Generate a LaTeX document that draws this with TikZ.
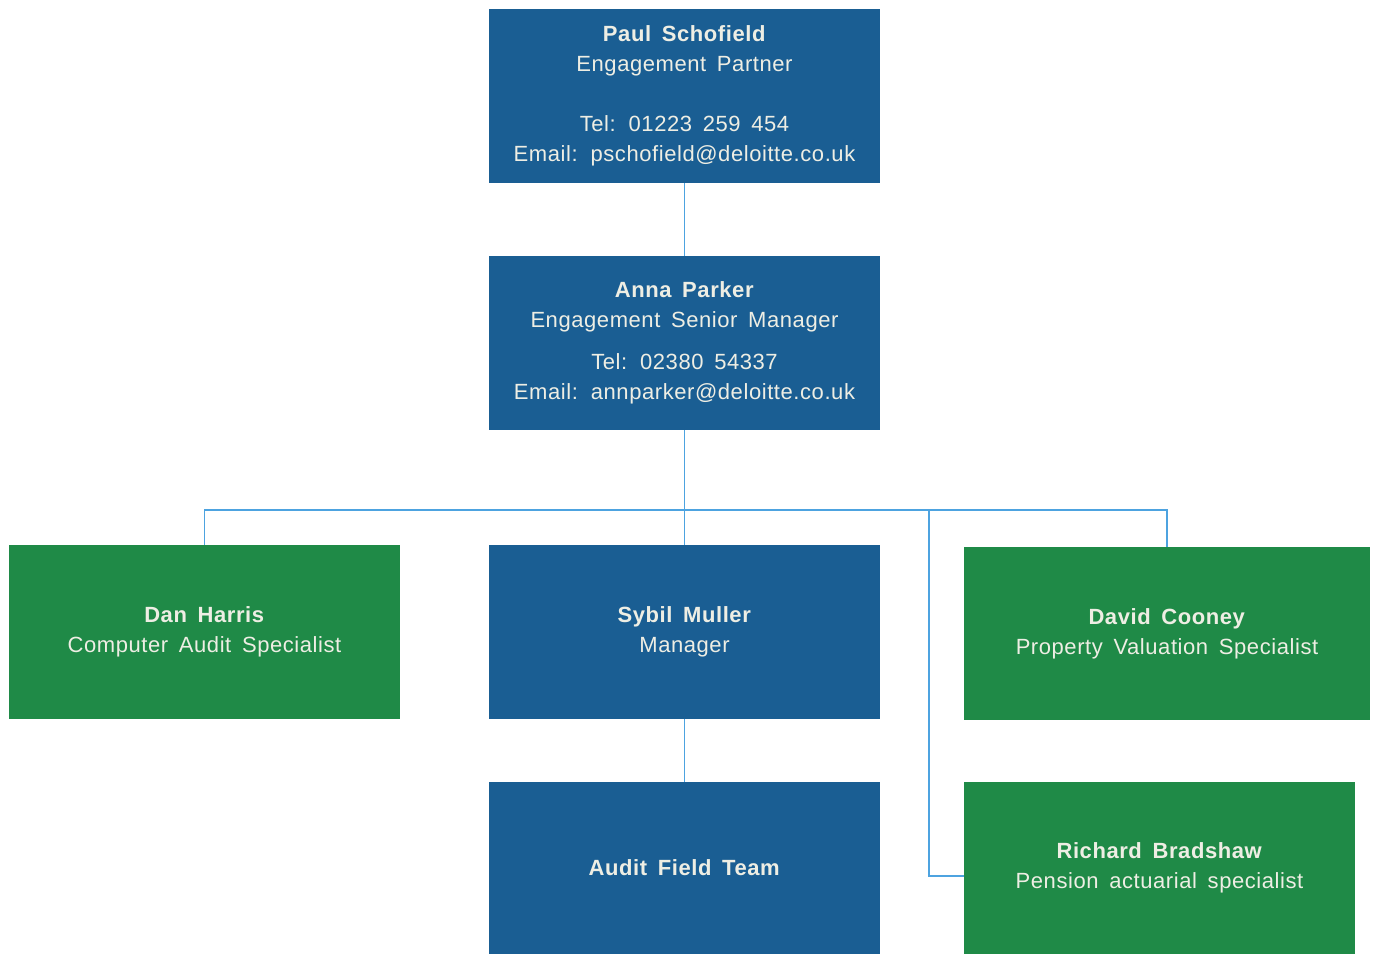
\documentclass[tikz,border=0pt]{standalone}
\usepackage{fontspec}
\setmainfont[LetterSpace=2.6,WordSpace=1.6]{Liberation Sans}
\usetikzlibrary{calc}
\definecolor{dblue}{HTML}{1A5E93}
\definecolor{dgreen}{HTML}{1F8A47}
\definecolor{lnblue}{HTML}{4DA3E0}
\definecolor{txt}{HTML}{EEEEE4}
\begin{document}
\begin{tikzpicture}[x=0.5pt,y=-0.5pt,
  box/.style={rectangle, inner sep=0pt, minimum width=195.5pt, minimum height=87pt,
    text=txt, align=center, font=\fontsize{11}{15}\selectfont},
  bluebox/.style={box, fill=dblue},
  greenbox/.style={box, fill=dgreen},
  conn/.style={draw=lnblue, line width=0.9pt}]
\useasboundingbox (0,0) rectangle (1375,954);
\node[bluebox] (paul) at (684.5,96) {\textbf{Paul Schofield}\\Engagement Partner\\[15pt]Tel: 01223 259 454\\Email: pschofield@deloitte.co.uk};
\node[bluebox] (anna) at (684.5,343) {\textbf{Anna Parker}\\Engagement Senior Manager\\[6pt]Tel: 02380 54337\\Email: annparker@deloitte.co.uk};
\node[greenbox] (dan) at (204.5,632) {\textbf{Dan Harris}\\Computer Audit Specialist};
\node[bluebox] (sybil) at (684.5,632) {\textbf{Sybil Muller}\\Manager};
\node[greenbox, minimum width=203pt, minimum height=86.5pt] (david) at (1167,633.5) {\textbf{David Cooney}\\Property Valuation Specialist};
\node[bluebox, minimum height=86pt] (audit) at (684.5,868) {\textbf{Audit Field Team}};
\node[greenbox, minimum height=86pt] (richard) at (1159.5,868) {\textbf{Richard Bradshaw}\\Pension actuarial specialist};
\coordinate (bus) at (684,510);
\coordinate (tap) at (929,510);
\draw[conn] (paul.south) -- (anna.north);
\draw[conn] (anna.south) -- (sybil.north);
\draw[conn] (dan.north) -- (dan.north |- bus) -- (david.north |- bus) -- (david.north);
\draw[conn] (tap) |- ($(richard.west)+(0,8)$);
\draw[conn] (sybil.south) -- (audit.north);
\end{tikzpicture}
\end{document}
